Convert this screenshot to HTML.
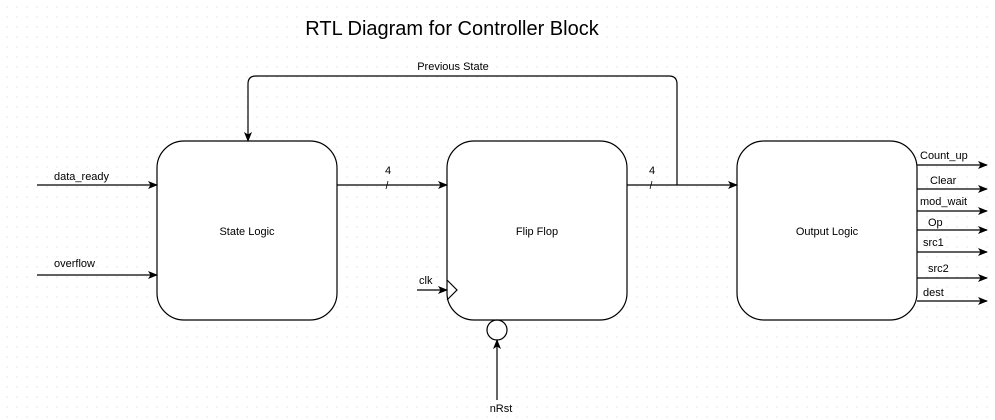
<!DOCTYPE html>
<html><head><meta charset="utf-8"><style>
html,body{margin:0;padding:0;background:#fff;}
body{width:995px;height:420px;overflow:hidden;
background-image:radial-gradient(circle,#d8d8d8 0.6px,transparent 0.8px);background-size:10px 10px;background-position:2px 2px;}
svg{position:absolute;left:0;top:0;}
text{font-family:"Liberation Sans",Arial,sans-serif;font-size:11px;fill:#000;}
</style></head><body>
<svg width="995" height="420" viewBox="0 0 995 420">
<defs><marker id="a" markerWidth="10" markerHeight="8" refX="9" refY="4" orient="auto" markerUnits="userSpaceOnUse"><path d="M0,0 L10,4 L0,8 L2.5,4 Z" fill="#000"/></marker></defs>
<g fill="#fff" stroke="#000" stroke-width="1.2">
<rect x="157" y="141" width="180" height="179" rx="27"/>
<rect x="447" y="141" width="180" height="179" rx="27"/>
<rect x="737" y="141" width="180" height="179" rx="27"/>
</g>
<text x="452" y="35" style="font-size:20px" text-anchor="middle">RTL Diagram for Controller Block</text>
<g stroke="#000" stroke-width="1.2" fill="none">
<line x1="37" y1="185" x2="157" y2="185" marker-end="url(#a)"/>
<line x1="37" y1="275" x2="157" y2="275" marker-end="url(#a)"/>
<line x1="337" y1="185" x2="447" y2="185" marker-end="url(#a)"/>
<line x1="627" y1="185" x2="737" y2="185" marker-end="url(#a)"/>
<path d="M677,185 V84 Q677,76 669,76 H256 Q248,76 248,84 V141" marker-end="url(#a)"/>
<line x1="417" y1="290" x2="447" y2="290" marker-end="url(#a)"/>
<path d="M447,280 L457,290 L447,300"/>
<circle cx="497" cy="330" r="10"/>
<line x1="497" y1="400" x2="497" y2="340" marker-end="url(#a)"/>
<line x1="917" y1="165" x2="987" y2="165" marker-end="url(#a)"/>
<line x1="917" y1="189" x2="987" y2="189" marker-end="url(#a)"/>
<line x1="917" y1="211" x2="987" y2="211" marker-end="url(#a)"/>
<line x1="917" y1="230" x2="987" y2="230" marker-end="url(#a)"/>
<line x1="917" y1="252" x2="987" y2="252" marker-end="url(#a)"/>
<line x1="917" y1="278" x2="987" y2="278" marker-end="url(#a)"/>
<line x1="917" y1="301" x2="987" y2="301" marker-end="url(#a)"/>
<line x1="386" y1="189" x2="388" y2="181" stroke-width="0.8"/>
<line x1="650" y1="189" x2="652" y2="181" stroke-width="0.8"/>
</g>
<text x="247" y="235" text-anchor="middle">State Logic</text>
<text x="537" y="235" text-anchor="middle">Flip Flop</text>
<text x="827" y="235" text-anchor="middle">Output Logic</text>
<text x="54" y="180">data_ready</text>
<text x="54" y="267">overflow</text>
<text x="453" y="70" text-anchor="middle">Previous State</text>
<text x="388" y="174" text-anchor="middle">4</text>
<text x="652" y="174" text-anchor="middle">4</text>
<text x="419" y="284">clk</text>
<text x="501" y="412" text-anchor="middle">nRst</text>
<text x="920" y="159">Count_up</text>
<text x="930" y="184">Clear</text>
<text x="920" y="205">mod_wait</text>
<text x="928" y="226">Op</text>
<text x="923" y="246">src1</text>
<text x="928" y="272">src2</text>
<text x="923" y="296">dest</text>
</svg>
</body></html>
